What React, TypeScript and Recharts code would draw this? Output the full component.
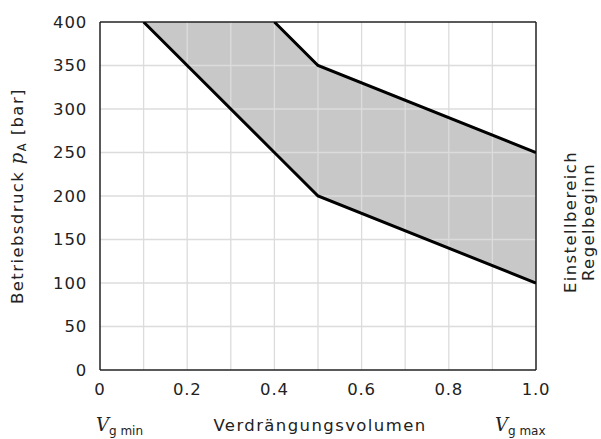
import React from "react";
import {
  ComposedChart,
  Area,
  Line,
  XAxis,
  YAxis,
  ReferenceLine,
} from "recharts";

// Data
const xValues = [0.1, 0.4, 0.5, 1.0];
const lowerBound = [400, 250, 200, 100];
const upperBound = [400, 400, 350, 250];
const upperLine: (number | null)[] = [null, 400, 350, 250];

const xTicks = [0, 0.1, 0.2, 0.3, 0.4, 0.5, 0.6, 0.7, 0.8, 0.9, 1.0];
const yTicks = [0, 50, 100, 150, 200, 250, 300, 350, 400];
const gridX = [0.1, 0.2, 0.3, 0.4, 0.5, 0.6, 0.7, 0.8, 0.9];
const gridY = [50, 100, 150, 200, 250, 300, 350];

const yAxisLabel = "Betriebsdruck";
const xAxisLabel = "Verdrängungsvolumen";
const rightLabel1 = "Einstellbereich";
const rightLabel2 = "Regelbeginn";

const data = xValues.map((x, i) => ({
  x,
  band: [lowerBound[i], upperBound[i]],
  lower: lowerBound[i],
  upper: upperLine[i],
}));

const FONT = "'DejaVu Sans', sans-serif";
const SERIF = "'DejaVu Serif', 'Liberation Serif', serif";
const TXT = "#222";
const W = 601;
const H = 439;

const fmtX = (v: number) => {
  const k = Math.round(v * 10);
  if (k % 2 !== 0) return "";
  return k === 0 ? "0" : v.toFixed(1);
};

export default function App() {
  return (
    <div style={{ position: "absolute", left: 0, top: 0, width: W, height: H, background: "#fff" }}>
      <ComposedChart
        width={W}
        height={H}
        data={data}
        margin={{ top: 22, right: 65, bottom: 0, left: 0 }}
      >
        <XAxis
          dataKey="x"
          type="number"
          domain={[0, 1]}
          ticks={xTicks}
          interval={0}
          tickFormatter={fmtX}
          tickLine={false}
          tickSize={0}
          tickMargin={13}
          height={69}
          axisLine={{ stroke: "#222", strokeWidth: 1.5 }}
          tick={{ fill: TXT, fontSize: 16.5, fontFamily: FONT, letterSpacing: 0.8 }}
          allowDataOverflow
        />
        <YAxis
          type="number"
          domain={[0, 400]}
          ticks={yTicks}
          interval={0}
          tickLine={false}
          tickSize={0}
          tickMargin={13}
          width={100}
          axisLine={{ stroke: "#222", strokeWidth: 1.5 }}
          tick={{ fill: TXT, fontSize: 16.5, fontFamily: FONT, letterSpacing: 0.8 }}
          allowDataOverflow
        />
        <Area
          dataKey="band"
          type="linear"
          fill="#c8c8c8"
          fillOpacity={1}
          stroke="none"
          isAnimationActive={false}
        />
        {gridX.map((v) => (
          <ReferenceLine key={"gx" + v} x={v} stroke="#dcdcdc" strokeWidth={1.3} />
        ))}
        {gridY.map((v) => (
          <ReferenceLine key={"gy" + v} y={v} stroke="#dcdcdc" strokeWidth={1.3} />
        ))}
        <ReferenceLine y={400} stroke="#222" strokeWidth={1.5} />
        <ReferenceLine x={1} stroke="#222" strokeWidth={1.5} />
        <Line
          dataKey="lower"
          type="linear"
          stroke="#000"
          strokeWidth={3}
          dot={false}
          isAnimationActive={false}
        />
        <Line
          dataKey="upper"
          type="linear"
          stroke="#000"
          strokeWidth={3}
          dot={false}
          connectNulls={false}
          isAnimationActive={false}
        />
      </ComposedChart>
      <svg
        width={W}
        height={H}
        style={{ position: "absolute", left: 0, top: 0, pointerEvents: "none" }}
      >
        <text
          transform="translate(23,196) rotate(-90)"
          textAnchor="middle"
          fill={TXT}
          fontSize={16.5}
          fontFamily={FONT}
          letterSpacing={1.4}
        >
          {yAxisLabel + " "}
          <tspan fontFamily={SERIF} fontStyle="italic" fontSize={18}>p</tspan>
          <tspan fontSize={11.5} dy={3}>A</tspan>
          <tspan dy={-3}> [bar]</tspan>
        </text>
        <text
          transform="translate(576,222) rotate(-90)"
          textAnchor="middle"
          fill={TXT}
          fontSize={16.5}
          fontFamily={FONT}
          letterSpacing={1.4}
        >
          {rightLabel1}
        </text>
        <text
          transform="translate(594,222) rotate(-90)"
          textAnchor="middle"
          fill={TXT}
          fontSize={16.5}
          fontFamily={FONT}
          letterSpacing={1.4}
        >
          {rightLabel2}
        </text>
        <text
          x={320}
          y={431}
          textAnchor="middle"
          fill={TXT}
          fontSize={16.5}
          fontFamily={FONT}
          letterSpacing={1.4}
        >
          {xAxisLabel}
        </text>
        <text x={96} y={431} fill={TXT} fontSize={18} fontFamily={SERIF}>
          <tspan fontStyle="italic">V</tspan>
          <tspan fontFamily={FONT} fontSize={12} dy={4}>g min</tspan>
        </text>
        <text x={495} y={431} fill={TXT} fontSize={18} fontFamily={SERIF}>
          <tspan fontStyle="italic">V</tspan>
          <tspan fontFamily={FONT} fontSize={12} dy={4}>g max</tspan>
        </text>
      </svg>
    </div>
  );
}
